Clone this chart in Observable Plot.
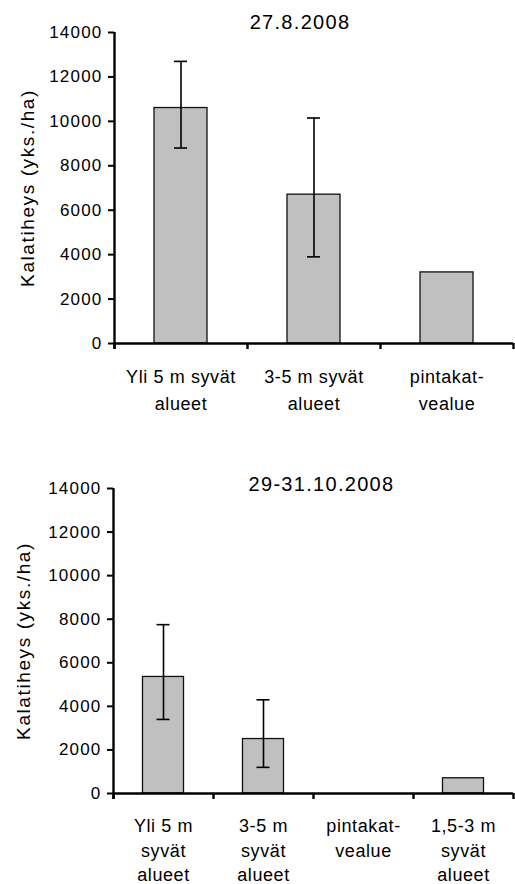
<!DOCTYPE html>
<html>
<head>
<meta charset="utf-8">
<script src="https://cdn.jsdelivr.net/npm/d3@7"></script>
<script src="https://cdn.jsdelivr.net/npm/@observablehq/plot@0.6"></script>
<style>
  html, body { margin: 0; padding: 0; background: #fff; }
  #chart svg { display: block; }
</style>
</head>
<body>
<div id="chart"></div>
<script>
// ---- Data ----
const yLabel = "Kalatiheys (yks./ha)";
const yTicks = [0, 2000, 4000, 6000, 8000, 10000, 12000, 14000];

// Chart 1: 27.8.2008
const title1 = "27.8.2008";
const cats1 = ["Yli 5 m syvät\nalueet", "3-5 m syvät\nalueet", "pintakat-\nvealue"];
const vals1 = [10600, 6700, 3200];
const lo1 = [8800, 3900, null];
const hi1 = [12700, 10150, null];

// Chart 2: 29-31.10.2008
const title2 = "29-31.10.2008";
const cats2 = ["Yli 5 m\nsyvät\nalueet", "3-5 m\nsyvät\nalueet", "pintakat-\nvealue", "1,5-3 m\nsyvät\nalueet"];
const vals2 = [5350, 2500, 0, 700];
const lo2 = [3400, 1200, null, null];
const hi2 = [7750, 4300, null, null];

const FONT = "'Liberation Sans', Arial, Helvetica, sans-serif";

function makeChart({title, cats, vals, lo, hi, width, height, mt, mb, ml, mr,
                    barW, labelDy, lineHeight, titleDx, titleDy, yLabelX}) {
  const rows = cats.map((c, i) => ({cat: c, v: vals[i], lo: lo[i], hi: hi[i]}));
  const errs = rows.filter(d => d.lo != null);
  const bars = rows.filter(d => d.v > 0);
  const plotW = width - ml - mr;
  const plotH = height - mt - mb;
  const bw = plotW / cats.length;
  const barInset = (bw - barW) / 2;
  const capInset = (bw - 13) / 2;
  const svg = Plot.plot({
    width, height,
    marginTop: mt, marginBottom: mb, marginLeft: ml, marginRight: mr,
    style: {fontFamily: FONT, fontSize: "17px", background: "white", color: "black", overflow: "visible"},
    x: {type: "band", domain: cats, padding: 0, axis: null},
    y: {domain: [0, 14000], axis: null},
    marks: [
      Plot.barY(bars, {x: "cat", y: "v", fill: "#c0c0c0", stroke: "#111", strokeWidth: 1.3,
                       insetLeft: barInset, insetRight: barInset}),
      Plot.ruleX(errs, {x: "cat", y1: "lo", y2: "hi", stroke: "black", strokeWidth: 1.6}),
      Plot.tickY(errs, {x: "cat", y: "lo", stroke: "black", strokeWidth: 1.6, insetLeft: capInset, insetRight: capInset}),
      Plot.tickY(errs, {x: "cat", y: "hi", stroke: "black", strokeWidth: 1.6, insetLeft: capInset, insetRight: capInset}),
      // axis lines
      Plot.ruleY([0], {stroke: "black", strokeWidth: 2.4}),
      Plot.ruleX([cats[0]], {x: d => d, dx: -bw / 2, stroke: "black", strokeWidth: 2.4, insetBottom: -6}),
      // x boundary ticks
      Plot.ruleX(cats, {x: d => d, dx: -bw / 2, stroke: "black", strokeWidth: 2.4, insetTop: plotH, insetBottom: -6}),
      Plot.ruleX([cats[cats.length - 1]], {x: d => d, dx: bw / 2, stroke: "black", strokeWidth: 2.4, insetTop: plotH, insetBottom: -6}),
      // y ticks
      Plot.ruleY(yTicks, {y: d => d, stroke: "black", strokeWidth: 2, insetLeft: -6, insetRight: plotW}),
      // y tick labels
      Plot.text(yTicks, {y: d => d, text: d => String(d), frameAnchor: "left", textAnchor: "end",
                         dx: -12, fontSize: 17}),
      // x labels
      Plot.text(cats, {x: d => d, text: d => d, frameAnchor: "bottom", lineAnchor: "top",
                       dy: labelDy, lineHeight, fontSize: 18}),
      // title
      Plot.text([title], {frameAnchor: "top", text: d => d, dx: titleDx, dy: titleDy,
                          lineAnchor: "middle", fontSize: 20}),
      // y label
      Plot.text([yLabel], {frameAnchor: "left", text: d => d, rotate: -90, dx: yLabelX - ml,
                           textAnchor: "middle", lineAnchor: "middle", fontSize: 19})
    ]
  });
  // letter spacing to mimic the wide glyphs of the original (order matches text marks above)
  const spacing = ["1.2px", "0.6px", "1.3px", "1.6px"];
  svg.querySelectorAll('g[aria-label="text"]').forEach((g, i) => {
    if (spacing[i]) g.style.letterSpacing = spacing[i];
  });
  return svg;
}

const c1 = makeChart({title: title1, cats: cats1, vals: vals1, lo: lo1, hi: hi1,
  width: 515, height: 430, mt: 32, mb: 87, ml: 114, mr: 2,
  barW: 53, labelDy: 21, lineHeight: 1.48, titleDx: -14, titleDy: -10, yLabelX: 27.5});
const c2 = makeChart({title: title2, cats: cats2, vals: vals2, lo: lo2, hi: hi2,
  width: 515, height: 454, mt: 58, mb: 91, ml: 113, mr: 2,
  barW: 41, labelDy: 21, lineHeight: 1.37, titleDx: 8, titleDy: -4, yLabelX: 23});

const el = document.getElementById("chart");
el.append(c1, c2);
</script>
</body>
</html>
